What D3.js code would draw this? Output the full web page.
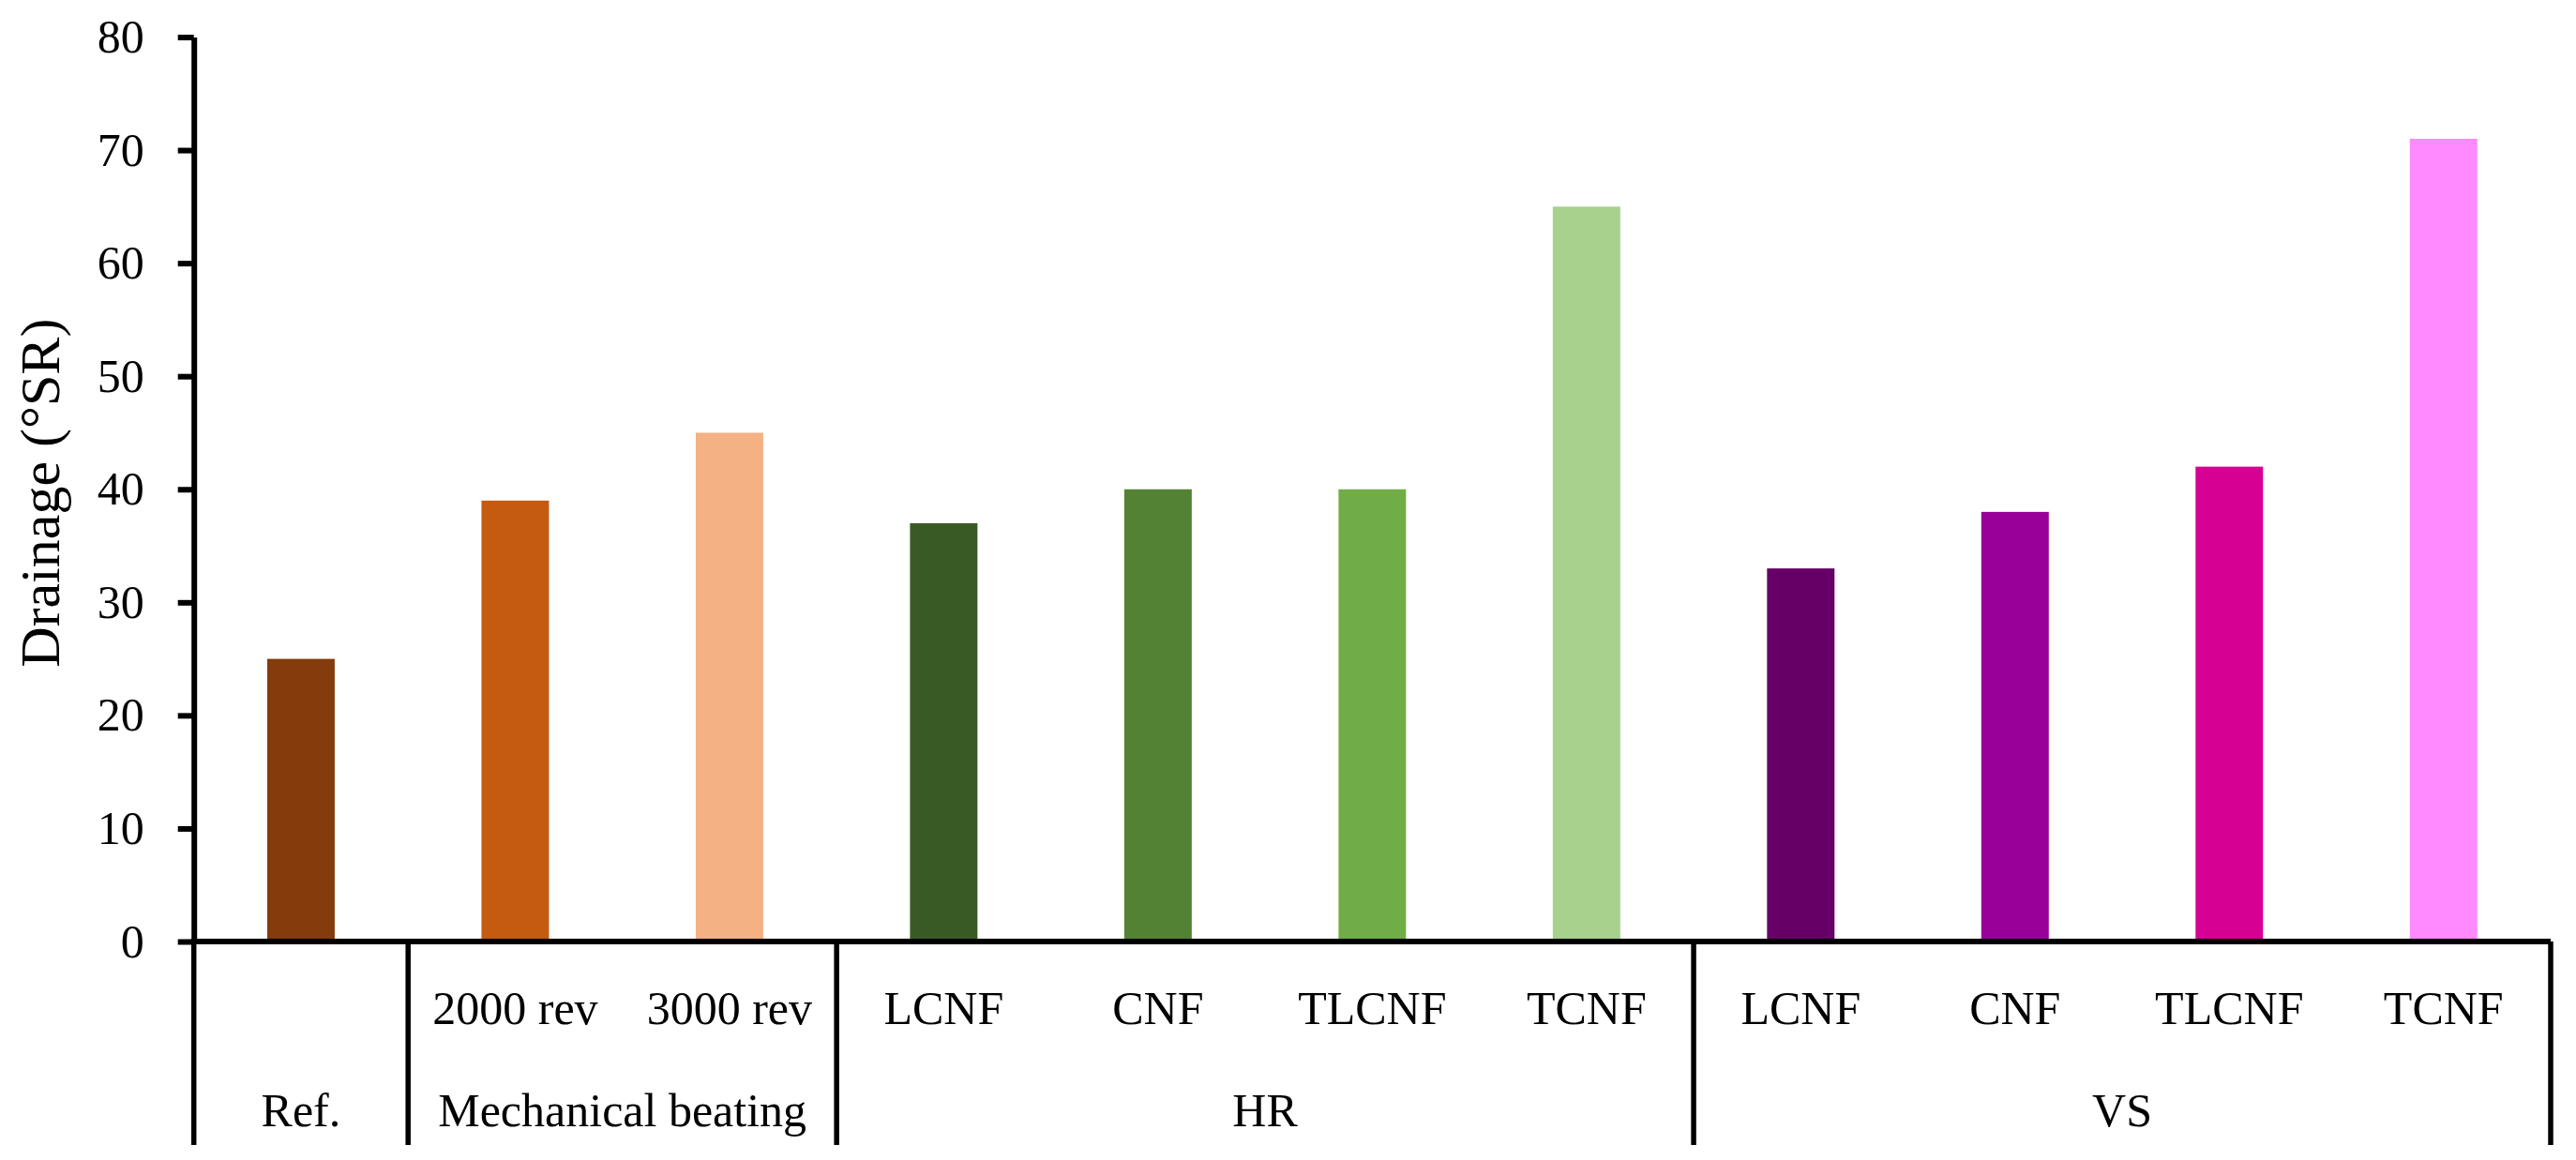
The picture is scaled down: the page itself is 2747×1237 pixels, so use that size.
<!DOCTYPE html>
<html lang="en">
<head>
    <meta charset="UTF-8">
    <title>Drainage</title>
    <script src="https://d3js.org/d3.v7.min.js"></script>
    <style>
        body { margin: 0; background: #fff; }
        svg { display: block; font-family: "Liberation Serif", "Times New Roman", serif; }
    </style>
</head>
<body>
    <script>
        // data
        const labels = ["", "2000 rev", "3000 rev", "LCNF", "CNF", "TLCNF", "TCNF", "LCNF", "CNF", "TLCNF", "TCNF"];
        const groupOf = ["Ref.", "Mechanical beating", "Mechanical beating", "HR", "HR", "HR", "HR", "VS", "VS", "VS", "VS"];
        const groups = ["Ref.", "Mechanical beating", "HR", "VS"];
        const values = [25, 39, 45, 37, 40, 40, 65, 33, 38, 42, 71];
        const colors = ["#843C0C", "#C55A11", "#F4B183", "#3A5A25", "#548235", "#70AD47", "#A9D18E", "#660066", "#990099", "#D60093", "#FF8AFF"];
        const yTicks = [0, 10, 20, 30, 40, 50, 60, 70, 80];

        const w = 2747;
        const h = 1237;
        const padLeft = 206.7;
        const padRight = 2720;
        const padTop = 39.5;
        const padBottom = 1004;
        const labelRow1 = 1092;
        const labelRow2 = 1201;
        const lineEnd = 1221;

        const svg = d3.select("body").append("svg")
            .attr("width", w)
            .attr("height", h);

        const idx = d3.range(values.length);

        // slots for separators, bars inside
        const slot = d3.scaleBand().domain(idx).range([padLeft, padRight]).padding(0);
        const x = d3.scaleBand().domain(idx).range([padLeft, padRight])
            .paddingInner(0.685).paddingOuter(0.3425);
        const y = d3.scaleLinear().domain([0, 80]).range([padBottom, padTop]);

        // bars
        svg.selectAll("rect.bar")
            .data(idx)
            .enter()
            .append("rect")
            .attr("class", "bar")
            .attr("x", i => x(i))
            .attr("width", x.bandwidth())
            .attr("y", i => y(values[i]))
            .attr("height", i => y(0) - y(values[i]))
            .attr("fill", i => colors[i]);

        // y axis
        const yAxis = d3.axisLeft(y)
            .tickValues(yTicks)
            .tickSizeInner(17)
            .tickSizeOuter(0)
            .tickPadding(36);
        const gy = svg.append("g")
            .attr("transform", `translate(${padLeft},0)`)
            .call(yAxis);
        gy.select(".domain").attr("stroke", "#000").attr("stroke-width", 6);
        gy.selectAll(".tick line").attr("stroke", "#000").attr("stroke-width", 6);
        gy.selectAll(".tick text")
            .attr("fill", "#000")
            .style("font-size", "50px")
            .style("font-family", "Liberation Serif, serif");

        // x axis line
        svg.append("line")
            .attr("x1", padLeft - 3)
            .attr("x2", padRight)
            .attr("y1", y(0))
            .attr("y2", y(0))
            .attr("stroke", "#000")
            .attr("stroke-width", 6);

        // group separators below the axis
        const bounds = [0];
        groups.forEach(g => {
            bounds.push(groupOf.lastIndexOf(g) + 1);
        });
        svg.selectAll("line.sep")
            .data(bounds)
            .enter()
            .append("line")
            .attr("class", "sep")
            .attr("x1", b => b < values.length ? slot(b) : padRight)
            .attr("x2", b => b < values.length ? slot(b) : padRight)
            .attr("y1", y(0))
            .attr("y2", lineEnd)
            .attr("stroke", "#000")
            .attr("stroke-width", 5.5);

        // sub labels
        svg.selectAll("text.sub")
            .data(idx)
            .enter()
            .append("text")
            .attr("class", "sub")
            .attr("x", i => x(i) + x.bandwidth() / 2)
            .attr("y", labelRow1)
            .attr("text-anchor", "middle")
            .style("font-size", "50px")
            .text(i => labels[i]);

        // group labels
        svg.selectAll("text.grp")
            .data(groups)
            .enter()
            .append("text")
            .attr("class", "grp")
            .attr("x", g => {
                const a = groupOf.indexOf(g);
                const b = groupOf.lastIndexOf(g);
                return (slot(a) + slot(b) + slot.bandwidth()) / 2;
            })
            .attr("y", labelRow2)
            .attr("text-anchor", "middle")
            .style("font-size", "50px")
            .text(g => g);

        // y title
        svg.append("text")
            .attr("transform", `translate(63,${(padTop + padBottom) / 2 + 4}) rotate(-90)`)
            .attr("text-anchor", "middle")
            .style("font-size", "60px")
            .text("Drainage (°SR)");
    </script>
</body>
</html>
